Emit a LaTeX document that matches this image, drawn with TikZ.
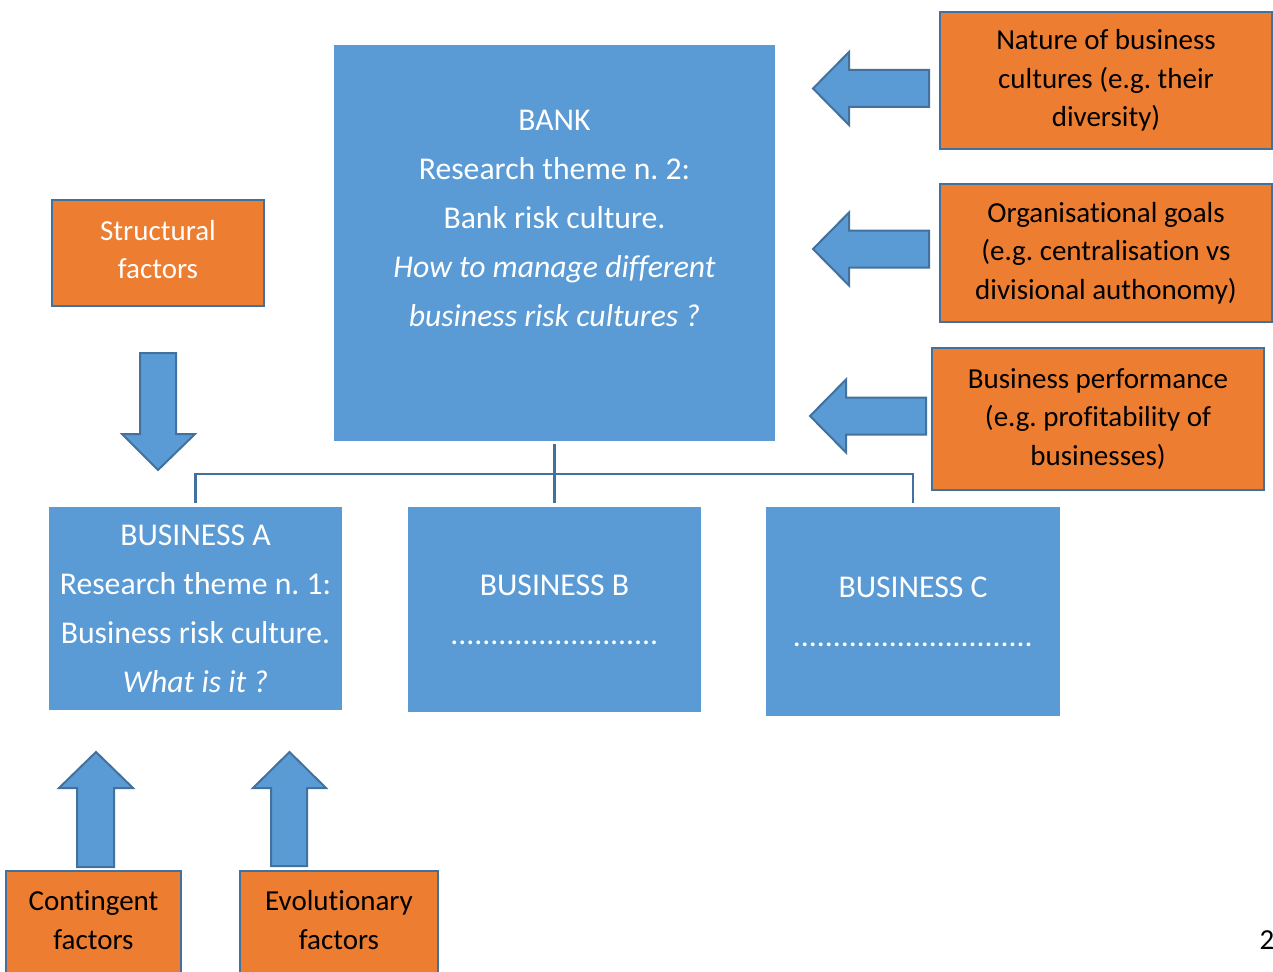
\documentclass[tikz,border=0pt]{standalone}
\usepackage{fontspec}
\setmainfont{Carlito}[Ligatures=NoCommon]
\frenchspacing
\definecolor{boxblue}{HTML}{5B9BD5}
\definecolor{edgeblue}{HTML}{41719C}
\definecolor{boxorange}{HTML}{ED7D31}
\begin{document}
\begin{tikzpicture}[x=1pt,y=-1pt,
  bluebox/.style={fill=boxblue, draw=none, inner sep=0pt, text=white, align=center,
    font=\fontsize{31.7}{49}\selectfont},
  orangebox/.style={fill=boxorange, draw=edgeblue, line width=2.2pt, inner sep=0pt,
    align=center, font=\fontsize{29}{38.3}\selectfont},
  btext/.style={text=white, align=center, inner sep=0pt, font=\fontsize{31.7}{49}\selectfont},
  otext/.style={text=black, align=center, inner sep=0pt, font=\fontsize{29}{38.3}\selectfont},
  conn/.style={draw=edgeblue, line width=2.4pt},
  blockarrow/.style={fill=boxblue, draw=edgeblue, line width=2pt, line join=miter},
  leftblock/.pic={\path[blockarrow] (0,0) -- (36,-36.5) -- (36,-18.5) -- (116,-18.5)
    -- (116,18.5) -- (36,18.5) -- (36,36.5) -- cycle;}
]
\useasboundingbox (0,0) rectangle (1273,971);
\clip (0,0) rectangle (1273,971);

% bank and its businesses
\node[bluebox, minimum width=441pt, minimum height=396pt] (bank) at (554.5,243) {};
\node[btext] (bankt) at (554.5,218) {BANK\\Research theme n. 2:\\Bank risk culture.\\
  \textit{How to manage different}\\\textit{business risk cultures ?}};

\node[bluebox, minimum width=293pt, minimum height=203pt] (busA) at (195.5,608.5)
  {BUSINESS A\\Research theme n. 1:\\Business risk culture.\\\textit{What is it ?}};
\node[bluebox, minimum width=293pt, minimum height=205pt] (busB) at (554.5,609.5) {};
\node[btext] (busBt) at (554.5,610) {BUSINESS B\\..........................};
\node[bluebox, minimum width=294pt, minimum height=209pt] (busC) at (913,611.5) {};
\node[btext] (busCt) at (913,612) {BUSINESS C\\..............................};

% organisation chart lines
\coordinate (hub) at (554.5,474);
\draw[conn] ([yshift=-3pt]bank.south) -- ([yshift=4pt]busB.north);
\draw[conn] ([yshift=4pt]busA.north) -- (busA.north |- hub) -- (busC.north |- hub)
  -- ([yshift=4pt]busC.north);

% factors acting on the bank
\node[orangebox, minimum width=332pt, minimum height=137pt] (nature) at (1106,80.5)
  {Nature of business\\cultures (e.g. their\\diversity)};
\node[orangebox, minimum width=332pt, minimum height=138pt] (goals) at (1106,253)
  {Organisational goals\\(e.g. centralisation vs\\divisional authonomy)};
\node[orangebox, minimum width=332pt, minimum height=142pt] (perf) at (1098,419)
  {Business performance\\(e.g. profitability of\\businesses)};
\pic at (813,88.5) {leftblock};
\pic at (813,249) {leftblock};
\pic at (810,416) {leftblock};

% factors acting on business A
\node[orangebox, minimum width=212pt, minimum height=106pt] (struct) at (158,253) {};
\node[otext, text=white] (structt) at (158,249.5) {Structural\\factors};
\path[blockarrow] (140,353) -- (176,353) -- (176,434) -- (195,434) -- (158,470)
  -- (122,434) -- (140,434) -- cycle;

\node[orangebox, minimum width=175pt, minimum height=120pt] (cont) at (93.5,931) {};
\node[otext] (contt) at (93.5,920) {Contingent\\factors};
\node[orangebox, minimum width=198pt, minimum height=120pt] (evol) at (339,931) {};
\node[otext] (evolt) at (339,920) {Evolutionary\\factors};
\path[blockarrow] (77,867) -- (77,788) -- (59,788) -- (96,752) -- (133,788)
  -- (114,788) -- (114,867) -- cycle;
\path[blockarrow] (271,866) -- (271,788) -- (253,788) -- (289.5,752) -- (326,788)
  -- (307,788) -- (307,866) -- cycle;

% page number
\node[otext] (pagenum) at (1267,940) {2};
\end{tikzpicture}
\end{document}
